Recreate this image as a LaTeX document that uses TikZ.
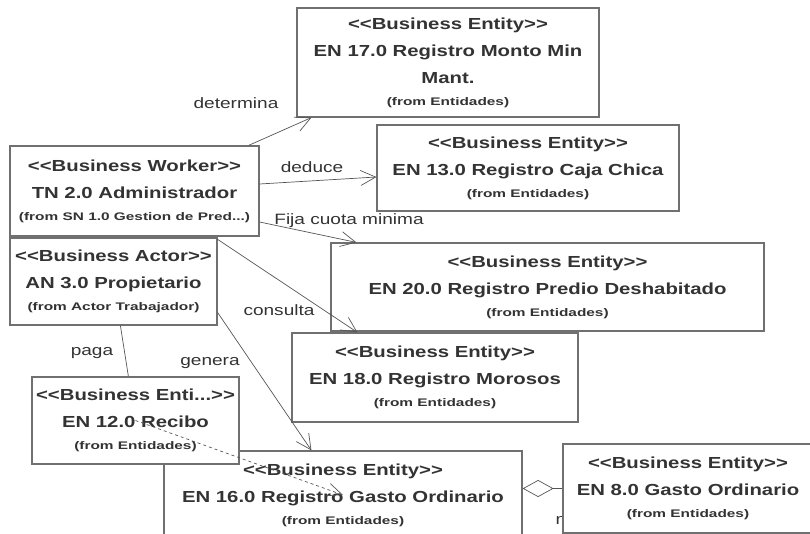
\documentclass[tikz,border=0pt]{standalone}
\usepackage{fontspec}
\setmainfont{Liberation Sans}[FakeStretch=1.27]
\newfontfamily\fromfont{Liberation Sans}[FakeStretch=1.4]
\usetikzlibrary{arrows.meta,positioning}
\definecolor{boxgray}{HTML}{707070}
\definecolor{linegray}{HTML}{555555}
\definecolor{inkgray}{HTML}{333333}
\tikzstyle{entity}=[draw=boxgray,line width=1.2pt,fill=white,align=center,text=inkgray,inner sep=2pt,font=\fontsize{16}{27}\selectfont\bfseries]
\tikzstyle{assoc}=[draw=linegray,line width=0.7pt,-{Straight Barb[length=15pt,width=15pt]}]
\tikzstyle{link}=[draw=linegray,line width=0.7pt]
\tikzstyle{dep}=[draw=linegray,line width=0.7pt,dashed,-{Straight Barb[length=15pt,width=13pt]}]
\tikzstyle{aggr}=[draw=linegray,line width=0.7pt,{Diamond[open,length=31pt,width=17pt]}-]
\tikzstyle{role}=[text=inkgray,font=\fontsize{15}{18}\selectfont,inner sep=0pt]
\newcommand{\umltext}[3]{<{}<#1>{}>\\#2\\[-5pt]{\fromfont\fontsize{11}{13}\selectfont(from #3)}}

\begin{document}
\begin{tikzpicture}[x=1pt,y=-1pt]
    \useasboundingbox (0,0) rectangle (810,534);
    \clip (0,0) rectangle (810,534);
    % multiplicity, half hidden behind the box drawn after it
    \node[role] (mult) at (561,520) {n};

    % First the boxes
    \node[entity,minimum width=302pt,minimum height=109pt] (en17) at (448,62.5) {\umltext{Business Entity}{EN 17.0 Registro Monto Min\\Mant.}{Entidades}};
    \node[entity,minimum width=302pt,minimum height=86pt] (en13) at (528,168) {\umltext{Business Entity}{EN 13.0 Registro Caja Chica}{Entidades}};
    \node[entity,minimum width=249pt,minimum height=90pt] (worker) at (134.5,191) {\umltext{Business Worker}{TN 2.0 Administrador}{SN 1.0 Gestion de Pred...}};
    \node[entity,minimum width=207pt,minimum height=87pt] (actor) at (113.5,281.5) {\umltext{Business Actor}{AN 3.0 Propietario}{Actor Trabajador}};
    \node[entity,minimum width=433pt,minimum height=88pt] (en20) at (547.5,287) {\umltext{Business Entity}{EN 20.0 Registro Predio Deshabitado}{Entidades}};
    \node[entity,minimum width=286pt,minimum height=89pt] (en18) at (435,377.5) {\umltext{Business Entity}{EN 18.0 Registro Morosos}{Entidades}};
    \node[entity,minimum width=358pt,minimum height=88pt] (en16) at (343,495) {\umltext{Business Entity}{EN 16.0 Registro Gasto Ordinario}{Entidades}};
    \node[entity,minimum width=207pt,minimum height=87pt] (en12) at (135.5,420.5) {\umltext{Business Enti...}{EN 12.0 Recibo}{Entidades}};
    \node[entity,minimum width=250pt,minimum height=89pt] (en8) at (688,488.5) {\umltext{Business Entity}{EN 8.0 Gasto Ordinario}{Entidades}};

    % Then the connectors
    \draw[assoc] ([xshift=-11pt]worker.north east) -- ([xshift=15pt]en17.south west);
    \draw[assoc] ([yshift=7pt]worker.east) -- ([yshift=-9pt]en13.west);
    \draw[assoc] ([yshift=-31pt]worker.east) -- ([xshift=26pt]en20.north west);
    \draw[assoc] ([yshift=-2pt]actor.north east) -- ([xshift=66pt]en18.north west);
    \draw[assoc] ([yshift=-31pt]actor.east) -- ([xshift=148pt]en16.north west);
    \draw[link] ([xshift=111pt]actor.south west) -- ([xshift=97pt]en12.north west);
    \draw[dep] (en12.center) -- (en16.center);
    \draw[aggr] (en16.east |- en8.west) -- (en8.west);

    % Labels on the connectors
    \node[role] (determina) at (236,103) {determina};
    \node[role] (deduce) at (312,167) {deduce};
    \node[role] (fija) at (349,221) {Fija cuota minima};
    \node[role] (consulta) at (279,310) {consulta};
    \node[role] (genera) at (210,363) {genera};
    \node[role] (paga) at (92,353) {paga};
\end{tikzpicture}
\end{document}
